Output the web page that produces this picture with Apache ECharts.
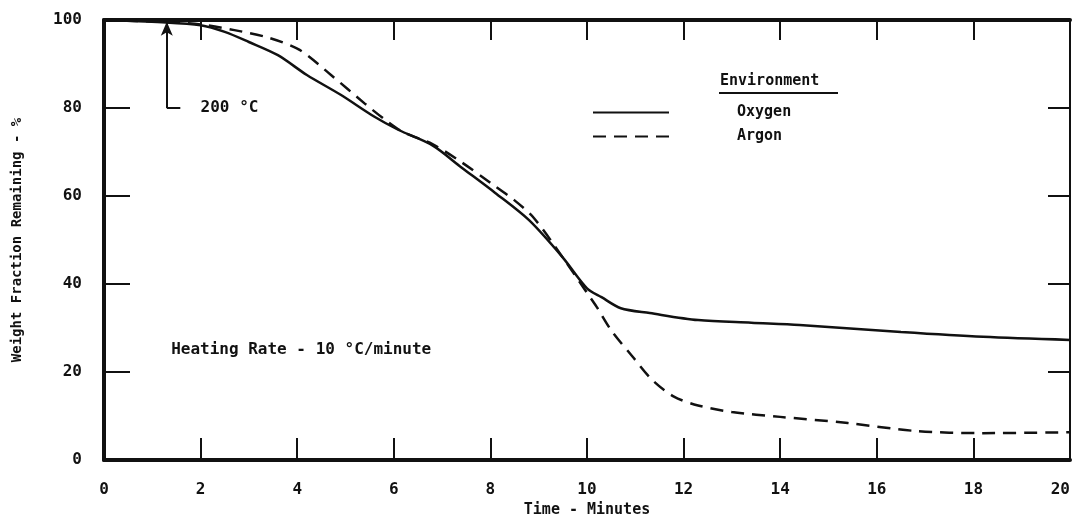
<!DOCTYPE html>
<html>
<head>
<meta charset="utf-8">
<script src="https://cdn.jsdelivr.net/npm/echarts@6/dist/echarts.min.js"></script>
<style>
  html, body { margin: 0; padding: 0; background: #fff; }
  #chart { width: 1073px; height: 517px; }
</style>
</head>
<body>
<div id="chart"></div>
<script>
// weight loss curves (time in minutes, weight %)
var oxygenX = [0, 1.2, 2, 2.5, 3, 3.6, 4.2, 4.9, 5.6, 6.1, 6.8, 7.4, 8.1, 8.8, 9.5, 10, 10.3, 10.7, 11.3, 12.3, 13.4, 14.4, 16.5, 18.2, 20];
var oxygenY = [100, 99.5, 98.8, 97.3, 95, 92, 87.5, 83, 78, 75, 71.5, 66.5, 60.7, 54.5, 46, 39, 37, 34.5, 33.4, 31.8, 31.2, 30.7, 29.1, 28, 27.3];
var argonX = [0, 1.2, 2, 2.7, 3.4, 4.05, 4.7, 5.4, 5.8, 6.2, 6.8, 7.4, 8.0, 8.5, 8.9, 9.5, 10, 10.2, 10.5, 10.95, 11.35, 11.8, 12.3, 13, 14, 15.4, 16.8, 18.2, 20];
var argonY = [100, 99.6, 99, 97.7, 96, 93.2, 87.5, 81, 77.5, 74.5, 71.8, 67.7, 63, 59, 55, 46, 38, 34.8, 29.5, 23.4, 18.2, 14.4, 12.4, 10.9, 9.8, 8.4, 6.6, 6.1, 6.3];

var xTicks = [0, 20, 2];   // min, max, interval
var yTicks = [0, 100, 20];

// 200 C marker: arrow up to the curve, with a short foot to the right
var markerX = [1.3, 1.58];
var markerY = [80, 99.6];

var mono = 'DejaVu Sans Mono';
var ink = '#111';

function pairs(xs, ys) {
  return xs.map(function (x, i) { return [x, ys[i]]; });
}

var chart = echarts.init(document.getElementById('chart'));

var option = {
  animation: false,
  backgroundColor: '#fff',
  grid: { left: 104, right: 3, top: 20, bottom: 57, outerBoundsMode: 'none' },
  legend: {
    data: ['Oxygen', 'Argon'],
    orient: 'vertical',
    left: 587,
    top: 100,
    itemWidth: 76,
    itemHeight: 14,
    itemGap: 9,
    itemStyle: { opacity: 0 },
    textStyle: { fontFamily: mono, fontSize: 15, fontWeight: 'bold', color: ink, padding: [0, 0, 0, 63] }
  },
  graphic: [
    { type: 'text', left: 720, top: 74,
      style: { text: 'Environment', font: 'bold 15px "DejaVu Sans Mono"', fill: ink } },
    { type: 'line', shape: { x1: 719, y1: 93, x2: 838, y2: 93 },
      style: { stroke: ink, lineWidth: 2 } }
  ],
  xAxis: [{
    type: 'value', position: 'bottom',
    min: xTicks[0], max: xTicks[1], interval: xTicks[2],
    name: 'Time - Minutes', nameLocation: 'middle', nameGap: 42,
    nameTextStyle: { fontFamily: mono, fontSize: 15, fontWeight: 'bold', color: ink },
    axisLine: { onZero: false, lineStyle: { color: ink, width: 4 } },
    axisTick: { inside: true, length: 22, lineStyle: { color: ink, width: 2 } },
    axisLabel: { fontFamily: mono, fontSize: 16, fontWeight: 'bold', color: ink, margin: 22, alignMaxLabel: 'right' },
    splitLine: { show: false }
  }, {
    type: 'value', position: 'top',
    min: xTicks[0], max: xTicks[1], interval: xTicks[2],
    axisLine: { onZero: false, lineStyle: { color: ink, width: 4 } },
    axisTick: { inside: true, length: 20, lineStyle: { color: ink, width: 2 } },
    axisLabel: { show: false },
    splitLine: { show: false }
  }],
  yAxis: [{
    type: 'value', position: 'left',
    min: yTicks[0], max: yTicks[1], interval: yTicks[2],
    name: 'Weight Fraction Remaining - %', nameLocation: 'middle', nameGap: 80,
    nameTextStyle: { fontFamily: mono, fontSize: 14, fontWeight: 'bold', color: ink },
    axisLine: { show: true, onZero: false, lineStyle: { color: ink, width: 4 } },
    axisTick: { show: true, inside: true, length: 26, lineStyle: { color: ink, width: 2 } },
    axisLabel: { fontFamily: mono, fontSize: 16, fontWeight: 'bold', color: ink, margin: 22 },
    splitLine: { show: false }
  }, {
    type: 'value', position: 'right',
    min: yTicks[0], max: yTicks[1], interval: yTicks[2],
    axisLine: { show: true, onZero: false, lineStyle: { color: ink, width: 2 } },
    axisTick: { show: true, inside: true, length: 22, lineStyle: { color: ink, width: 2 } },
    axisLabel: { show: false },
    splitLine: { show: false }
  }],
  series: [{
    name: 'Oxygen',
    type: 'line',
    data: pairs(oxygenX, oxygenY),
    smooth: 0.3,
    symbol: 'none',
    lineStyle: { color: ink, width: 2.5, type: 'solid' },
    itemStyle: { color: ink },
    markLine: {
      silent: true,
      symbol: ['none', 'none'],
      label: { show: false },
      lineStyle: { color: ink, width: 2, type: 'solid' },
      data: [
        [{ coord: [markerX[0], markerY[0]], symbol: 'none' },
         { coord: [markerX[0], markerY[1]], symbol: 'arrow', symbolSize: [9, 14] }],
        [{ coord: [markerX[0], markerY[0]] }, { coord: [markerX[1], markerY[0]] }]
      ]
    }
  }, {
    name: 'Argon',
    type: 'line',
    data: pairs(argonX, argonY),
    smooth: 0.3,
    symbol: 'none',
    lineStyle: { color: ink, width: 2.5, type: [13, 8] },
    itemStyle: { color: ink }
  }, {
    name: 'notes',
    type: 'scatter',
    symbolSize: 0,
    silent: true,
    itemStyle: { opacity: 1 },
    data: [
      { value: [2.0, 80], label: { formatter: '200 °C' } },
      { value: [1.39, 25], label: { formatter: 'Heating Rate - 10 °C/minute' } }
    ],
    label: {
      show: true, position: 'right', distance: 0,
      fontFamily: mono, fontSize: 16, fontWeight: 'bold', color: ink
    }
  }]
};

chart.setOption(option);
</script>
</body>
</html>
